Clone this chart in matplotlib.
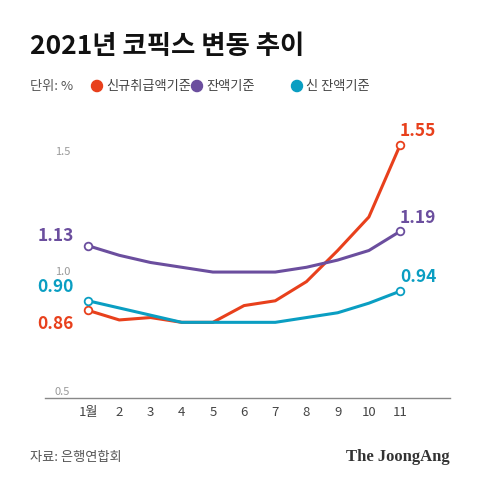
import matplotlib
matplotlib.use("Agg")
import matplotlib.pyplot as plt

plt.rcParams['font.family'] = ['Noto Sans CJK KR', 'DejaVu Sans']

months = list(range(1, 12))
xlabels = ['1월', '2', '3', '4', '5', '6', '7', '8', '9', '10', '11']
new_loan = [0.86, 0.82, 0.83, 0.81, 0.81, 0.88, 0.90, 0.98, 1.11, 1.25, 1.55]
balance = [1.13, 1.09, 1.06, 1.04, 1.02, 1.02, 1.02, 1.04, 1.07, 1.11, 1.19]
new_balance = [0.90, 0.87, 0.84, 0.81, 0.81, 0.81, 0.81, 0.83, 0.85, 0.89, 0.94]
series_names = ['신규취급액기준', '잔액기준', '신 잔액기준']
colors = ['#E8401C', '#6B4E9E', '#0A9EC2']

fig = plt.figure(figsize=(4.8, 4.87), dpi=100)
ax = fig.add_axes([45/480, 1-398/487, 405/480, 272/487])
series = [new_loan, balance, new_balance]
for vals, c in zip(series, colors):
    ax.plot(months, vals, color=c, lw=2.2, zorder=3)
    for i in (0, len(vals)-1):
        ax.plot(months[i], vals[i], 'o', ms=5.5, mfc='white', mec=c, mew=1.3, zorder=4)

fs = 12.5
ax.text(months[0]-0.45, balance[0]+0.005, f'{balance[0]:.2f}', color=colors[1], fontsize=fs, fontweight='bold', ha='right', va='bottom')
ax.text(months[0]-0.45, new_balance[0]+0.02, f'{new_balance[0]:.2f}', color=colors[2], fontsize=fs, fontweight='bold', ha='right', va='bottom')
ax.text(months[0]-0.45, new_loan[0]-0.02, f'{new_loan[0]:.2f}', color=colors[0], fontsize=fs, fontweight='bold', ha='right', va='top')
ax.text(months[-1], new_loan[-1]+0.02, f'{new_loan[-1]:.2f}', color=colors[0], fontsize=fs, fontweight='bold', ha='left', va='bottom')
ax.text(months[-1], balance[-1]+0.02, f'{balance[-1]:.2f}', color=colors[1], fontsize=fs, fontweight='bold', ha='left', va='bottom')
ax.text(months[-1], new_balance[-1]+0.02, f'{new_balance[-1]:.2f}', color=colors[2], fontsize=fs, fontweight='bold', ha='left', va='bottom')

ax.set_xlim(-0.38, 12.6)
ax.set_ylim(0.494, 1.63)
ax.set_xticks(months)
ax.set_xticklabels(xlabels, fontsize=9.5, color='#444444')
ax.set_yticks([0.5, 1.0, 1.5])
ax.set_yticklabels(['0.5', '1.0', '1.5'], fontsize=8, color='#999999')
ax.tick_params(axis='y', length=0, pad=-18)
ax.tick_params(axis='x', length=0, pad=6)
for s in ['top', 'right', 'left']:
    ax.spines[s].set_visible(False)
ax.spines['bottom'].set_color('#888888')
ax.spines['bottom'].set_linewidth(1)
for t in ax.get_yticklabels():
    t.set_va('bottom')

fig.text(30/480, 1-46/487, '2021년 코픽스 변동 추이', fontsize=19, fontweight='bold', color='#111111', va='center')
fig.text(30/480, 1-86/487, '단위: %', fontsize=9.5, color='#555555', va='center')
lx = [97, 197, 297]
for x, name, c in zip(lx, series_names, colors):
    fig.patches.append(plt.Circle((x/480, 1-86/487), 5.5/480, transform=fig.transFigure, color=c))
    fig.text((x+9)/480, 1-86/487, name, fontsize=9.5, color='#444444', va='center')
fig.text(30/480, 1-457/487, '자료: 은행연합회', fontsize=9.5, color='#555555', va='center')
fig.text(450/480, 1-457/487, 'The JoongAng', fontsize=12, fontweight='bold', family='Liberation Serif', color='#333333', va='center', ha='right')

fig.savefig('out.png', dpi=100, facecolor='white')
